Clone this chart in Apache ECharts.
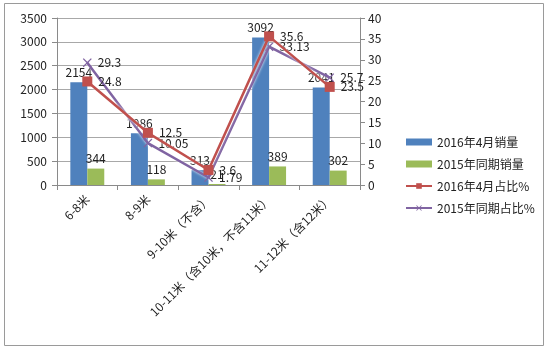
<!DOCTYPE html>
<html>
<head>
<meta charset="utf-8">
<script src="https://cdn.jsdelivr.net/npm/echarts@6/dist/echarts.min.js"></script>
<style>
  html, body { margin: 0; padding: 0; background: #fff; }
  #main { width: 550px; height: 354px; }
</style>
</head>
<body>
<div id="main"></div>
<script>
// chart data
const categories = ['6-8米', '8-9米', '9-10米（不含）', '10-11米（含10米，不含11米）', '11-12米（含12米）'];
const sales2016 = [2154, 1086, 313, 3092, 2041];
const sales2015 = [344, 118, 21, 389, 302];
const share2016 = [24.8, 12.5, 3.6, 35.6, 23.5];
const share2015 = [29.3, 10.05, 1.79, 33.13, 25.7];
const leftTicks = [0, 3500, 500];
const rightTicks = [0, 40, 5];

const font = "'Noto Sans CJK SC', 'Liberation Sans', sans-serif";
const crossPath = 'path://M0,1L1,0L5,4L9,0L10,1L6,5L10,9L9,10L5,6L1,10L0,9L4,5Z';

const chart = echarts.init(document.getElementById('main'));
chart.setOption({
  animation: false,
  textStyle: { fontFamily: font },
  graphic: [{
    type: 'rect',
    shape: { x: 4.5, y: 3.5, width: 539, height: 342 },
    style: { fill: 'none', stroke: '#9a9a9a', lineWidth: 1 },
    silent: true
  }],
  grid: { left: 57, right: 190, top: 18, bottom: 169 },
  legend: {
    orient: 'vertical',
    left: 400,
    top: 131,
    itemGap: 10,
    itemWidth: 26,
    itemHeight: 7,
    textStyle: { fontSize: 12, color: '#222', fontFamily: font },
    data: [
      { name: '2016年4月销量', icon: 'rect' },
      { name: '2015年同期销量', icon: 'rect' },
      { name: '2016年4月占比%' },
      { name: '2015年同期占比%' }
    ]
  },
  xAxis: {
    type: 'category',
    data: categories,
    axisLine: { lineStyle: { color: '#8a8a8a' } },
    axisTick: { show: true, length: 5, lineStyle: { color: '#8a8a8a' } },
    axisLabel: { interval: 0, rotate: 45, fontSize: 12, color: '#222', margin: 12 }
  },
  yAxis: [{
    type: 'value',
    min: leftTicks[0], max: leftTicks[1], interval: leftTicks[2],
    axisLine: { show: true, lineStyle: { color: '#8a8a8a' } },
    axisTick: { show: true, length: 5, lineStyle: { color: '#8a8a8a' } },
    axisLabel: { fontSize: 12, color: '#222', margin: 10, formatter: v => String(v) },
    splitLine: { lineStyle: { color: '#a8a8a8' } }
  }, {
    type: 'value',
    min: rightTicks[0], max: rightTicks[1], interval: rightTicks[2],
    axisLine: { show: true, lineStyle: { color: '#8a8a8a' } },
    axisTick: { show: true, length: 5, lineStyle: { color: '#8a8a8a' } },
    axisLabel: { fontSize: 12, color: '#222', margin: 8, formatter: v => String(v) },
    splitLine: { show: false }
  }],
  series: [{
    name: '2016年4月销量',
    type: 'bar',
    data: sales2016,
    barGap: '0%',
    barCategoryGap: '44%',
    itemStyle: { color: '#4F81BD' },
    label: { show: true, position: 'top', fontSize: 12, color: '#222', distance: 4 }
  }, {
    name: '2015年同期销量',
    type: 'bar',
    data: sales2015,
    itemStyle: { color: '#9BBB59' },
    label: { show: true, position: 'top', fontSize: 12, color: '#222', distance: 4 }
  }, {
    name: '2016年4月占比%',
    type: 'line',
    yAxisIndex: 1,
    data: share2016,
    symbol: 'rect',
    symbolSize: 10,
    z: 4,
    lineStyle: { color: '#C0504D', width: 2.5, shadowColor: 'rgba(255,255,255,0.95)', shadowBlur: 3 },
    itemStyle: { color: '#C0504D' },
    label: { show: true, position: 'right', fontSize: 12, color: '#222', distance: 6 }
  }, {
    name: '2015年同期占比%',
    type: 'line',
    yAxisIndex: 1,
    data: share2015,
    symbol: crossPath,
    symbolSize: 9,
    z: 3,
    lineStyle: { color: '#8064A2', width: 2.5, shadowColor: 'rgba(255,255,255,0.95)', shadowBlur: 3 },
    itemStyle: { color: '#8064A2' },
    label: { show: true, position: 'right', fontSize: 12, color: '#222', distance: 6 }
  }]
});
</script>
</body>
</html>
